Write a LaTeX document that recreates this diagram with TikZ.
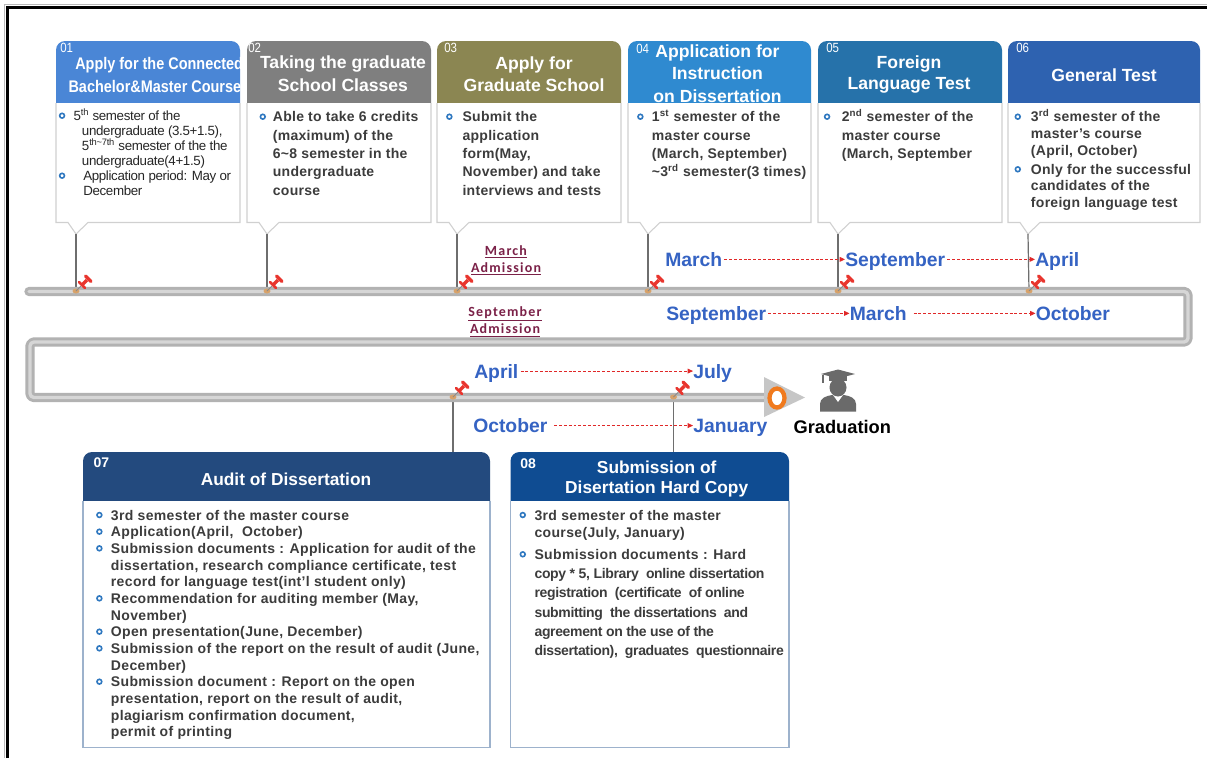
\documentclass[tikz,border=0pt]{standalone}
\usepackage{fontspec}
\setmainfont{Liberation Sans}
\newfontfamily\carl{Carlito}
\newfontfamily\narrowfam[FakeStretch=0.86]{Liberation Sans}
\usetikzlibrary{arrows.meta}
\definecolor{hA}{HTML}{4A86D6}
\definecolor{hB}{HTML}{7F7F7F}
\definecolor{hC}{HTML}{8B8652}
\definecolor{hD}{HTML}{2F8AD0}
\definecolor{hE}{HTML}{2672AA}
\definecolor{hF}{HTML}{2E62B0}
\definecolor{hG}{HTML}{234A7E}
\definecolor{hH}{HTML}{0F4C92}
\definecolor{txt}{HTML}{3C3C3C}
\definecolor{txtd}{HTML}{262626}
\definecolor{bul}{HTML}{2F78C0}
\definecolor{mon}{HTML}{3563C3}
\definecolor{adm}{HTML}{7B2148}
\definecolor{pipeout}{HTML}{B2B2B2}
\definecolor{pipein}{HTML}{D6D6D6}
\definecolor{pinred}{HTML}{E8352E}
\definecolor{pinbase}{HTML}{D7A26A}
\definecolor{pinneedle}{HTML}{8A8A8A}
\definecolor{connc}{HTML}{6E6E6E}
\definecolor{arrred}{HTML}{E02828}
\definecolor{edgec}{HTML}{D0D0D0}
\definecolor{edgeb}{HTML}{9DB2CC}
\definecolor{gradc}{HTML}{6A6A6A}
\definecolor{ringc}{HTML}{F07A1E}
\definecolor{trig}{HTML}{C6C6C6}

\newcommand\bl[1][10pt]{\makebox[#1][l]{\tikz[baseline=-3.75pt]\draw[bul,line width=1.2pt] (0,0) circle[radius=1.8pt];}}
\newcommand\ind[1][10pt]{\hspace*{#1}}
\newcommand\tophead[3]{\fill[#3] (#1,103) -- (#1,50) arc[start angle=180,end angle=270,radius=9] -- ({#1+#2-9},41) arc[start angle=270,end angle=360,radius=9] -- ({#1+#2},103) -- cycle;}
\newcommand\topbody[3]{\filldraw[fill=white,draw=edgec,line width=0.8pt] (#1,103) -- (#1,222.5) -- ({#1+12},222.5) -- ({#1+20},234) -- ({#1+32},222.5) -- ({#1+#2},222.5) -- ({#1+#2},103); \coordinate (#3) at ({#1+20},234);}
\newcommand\bothead[3]{\fill[#3] (#1,501) -- (#1,461) arc[start angle=180,end angle=270,radius=9] -- ({#1+#2-9},452) arc[start angle=270,end angle=360,radius=9] -- ({#1+#2},501) -- cycle;
\filldraw[fill=white,draw=edgeb,line width=0.8pt] (#1,501) -- (#1,747.5) -- ({#1+#2},747.5) -- ({#1+#2},501);}

\begin{document}
\begin{tikzpicture}[x=0.75pt,y=-0.75pt,
  hdtext/.style={anchor=base, inner sep=0, text=white, font=\fontsize{13.2}{17}\selectfont\bfseries},
  numtext/.style={anchor=base west, inner sep=0, text=white, font=\narrowfam\fontsize{10}{11}\selectfont},
  bignum/.style={anchor=base west, inner sep=0, text=white, font=\fontsize{10.5}{12}\selectfont\bfseries},
  bodytext/.style={anchor=base west, inner sep=0, text=txt, font=\fontsize{10.5}{13.8}\selectfont\bfseries\addfontfeature{LetterSpace=2}},
  lowtext/.style={anchor=base west, inner sep=0, text=txt, font=\fontsize{10.5}{12.5}\selectfont\bfseries\addfontfeature{LetterSpace=2.5}},
  montext/.style={anchor=base west, inner sep=0, text=mon, font=\fontsize{14.5}{16}\selectfont\bfseries},
  admtext/.style={anchor=base, inner sep=0, text=adm, font=\carl\fontsize{10.5}{13.1}\selectfont\bfseries\addfontfeature{LetterSpace=8.5}},
  monarrow/.style={draw=arrred, dash pattern=on 2.2pt off 1.4pt, line width=0.6pt, -{Triangle[length=4pt,width=3.6pt]}, shorten <=1.5pt},
  connline/.style={draw=connc, line width=0.9pt},
  pushpin/.pic={
    \fill[pinbase] (0,0) ellipse[x radius=3.5, y radius=2.5];
    \draw[pinneedle,line width=0.7pt] (0,0) -- (5,-5);
    \draw[pinred,line width=2pt,line cap=round] (3,-9) -- (9,-3);
    \draw[pinred,line width=2.6pt] (6,-6) -- (11,-11);
    \draw[pinred,line width=2.4pt,line cap=round] (9.5,-15) -- (15,-9.5);
  }]
\useasboundingbox (0,0) rectangle (1207,758);
\fill[white] (0,0) rectangle (1207,758);
% frame
\draw[gray!55,line width=0.5pt] (4,758) -- (4,4) -- (1207,4);
\draw[black,line width=1.6pt] (7.5,758) -- (7.5,7.5) -- (1207,7.5);

% ---------- top headers
\tophead{56}{184}{hA}
\tophead{247}{184}{hB}
\tophead{437}{184}{hC}
\tophead{628}{183}{hD}
\tophead{818}{184}{hE}
\tophead{1008}{192}{hF}

\begin{scope}
\clip (56,41) rectangle (240,103);
\node[anchor=base west,inner sep=0,text=white,font=\narrowfam\fontsize{12.6}{14}\selectfont\bfseries] (h1a) at (75,69) {Apply for the Connected};
\node[anchor=base west,inner sep=0,text=white,font=\narrowfam\fontsize{12.6}{14}\selectfont\bfseries] (h1b) at (68.3,92) {Bachelor\&Master Course};
\end{scope}
\node[hdtext] (h2) at (343,68.5) {\parbox[t]{240pt}{\centering Taking the graduate\\School Classes}};
\node[hdtext] (h3) at (534,69) {\parbox[t]{240pt}{\centering Apply for\\Graduate School}};
\node[hdtext] (h4) at (717.5,57) {\parbox[t]{240pt}{\centering Application for\\Instruction\\on Dissertation}};
\node[hdtext,font=\fontsize{13.2}{16.1}\selectfont\bfseries] (h5) at (909,68.5) {\parbox[t]{240pt}{\centering Foreign\\Language Test}};
\node[hdtext] (h6) at (1104,81) {\parbox[t]{240pt}{\centering General Test}};

\node[numtext] (n1) at (60,52) {01};
\node[numtext] (n2) at (248,52) {02};
\node[numtext] (n3) at (444,52) {03};
\node[numtext] (n4) at (636,53) {04};
\node[numtext] (n5) at (826,52.5) {05};
\node[numtext] (n6) at (1016,52.5) {06};

% ---------- top bodies
\topbody{56}{184}{tip1}
\topbody{247}{184}{tip2}
\topbody{437}{184}{tip3}
\topbody{628}{183}{tip4}
\topbody{818}{184}{tip5}
\topbody{1008}{192}{tip6}

\node[anchor=base west,inner sep=0,text=txtd,font=\fontsize{10}{11.25}\selectfont\addfontfeature{LetterSpace=-2.5}] (b1) at (58.6,120.7) {\parbox[t]{200pt}{%
\bl[11pt]5\textsuperscript{th} semester of the\\
\ind[17.3pt]undergraduate (3.5+1.5),\\
\ind[17.3pt]5\textsuperscript{th\textasciitilde 7th} semester of the the\\
\ind[17.3pt]undergraduate(4+1.5)\\
\bl[18.3pt]Application period: May or\\
\ind[18.3pt]December}};
\node[bodytext] (b2) at (259.3,121.7) {\parbox[t]{200pt}{%
\bl[10pt]Able to take 6 credits\\
\ind[10pt](maximum) of the\\
\ind[10pt]6\textasciitilde 8 semester in the\\
\ind[10pt]undergraduate\\
\ind[10pt]course}};
\node[bodytext] (b3) at (445.9,121.7) {\parbox[t]{200pt}{%
\bl[12.3pt]Submit the\\
\ind[12.3pt]application\\
\ind[12.3pt]form(May,\\
\ind[12.3pt]November) and take\\
\ind[12.3pt]interviews and tests}};
\node[bodytext] (b4) at (636.9,121.7) {\parbox[t]{200pt}{%
\bl[11.1pt]1\textsuperscript{st} semester of the\\
\ind[11.1pt]master course\\
\ind[11.1pt](March, September)\\
\ind[11.1pt]\textasciitilde 3\textsuperscript{rd} semester(3 times)}};
\node[bodytext] (b5) at (823.6,121.7) {\parbox[t]{200pt}{%
\bl[13.5pt]2\textsuperscript{nd} semester of the\\
\ind[13.5pt]master course\\
\ind[13.5pt](March, September}};
\node[bodytext,font=\fontsize{10.5}{12.5}\selectfont\bfseries\addfontfeature{LetterSpace=2}] (b6a) at (1014.3,121.7) {\parbox[t]{200pt}{%
\bl[12.3pt]3\textsuperscript{rd} semester of the\\
\ind[12.3pt]master's course\\
\ind[12.3pt](April, October)}};
\node[bodytext,font=\fontsize{10.5}{12.5}\selectfont\bfseries\addfontfeature{LetterSpace=2}] (b6b) at (1014.3,174.3) {\parbox[t]{200pt}{%
\bl[12.3pt]Only for the successful\\
\ind[12.3pt]candidates of the\\
\ind[12.3pt]foreign language test}};

% ---------- pins on the line
\coordinate (p1) at (76,291);
\coordinate (p2) at (267,291);
\coordinate (p3) at (457,291);
\coordinate (p4) at (648,291);
\coordinate (p5) at (838,291);
\coordinate (p6) at (1029,291);
\coordinate (q7) at (453,397);
\coordinate (q8) at (673.5,397);
\coordinate (t7) at (453,452);
\coordinate (t8) at (673.5,452);
\foreach \i in {1,...,6} {\draw[connline] (tip\i) -- (p\i);}
\draw[connline] (q7) -- (t7);
\draw[connline] (q8) -- (t8);

% ---------- timeline pipe
\draw[pipeout,line width=7pt,line cap=round,line join=round,rounded corners=3pt]
  (29,291.5) -- (1188,291.5) -- (1188,342) -- (30,342) -- (30,397.5) -- (770,397.5);
\draw[pipein,line width=2.5pt,line cap=round,line join=round,rounded corners=3pt]
  (29,291.5) -- (1188,291.5) -- (1188,342) -- (30,342) -- (30,397.5) -- (770,397.5);
\fill[trig] (764,377) -- (805,397.5) -- (764,417) -- cycle;
\draw[ringc,line width=3.2pt,fill=white] (777,398) ellipse[x radius=7.5, y radius=9.5];

\foreach \i in {p1,p2,p3,p4,p5,p6,q7,q8} {\pic at (\i) {pushpin};}

% ---------- admission labels
\node[admtext] (adm1) at (506,255) {\parbox[t]{120pt}{\centering\underline{March}\\\underline{Admission}}};
\node[admtext] (adm2) at (505,316.5) {\parbox[t]{120pt}{\centering\underline{September}\\\underline{Admission}}};

% ---------- months
\node[montext] (mA1) at (665,266.3) {March};
\node[montext] (mA2) at (845,266.3) {September};
\node[montext] (mA3) at (1035,266.3) {April};
\node[montext] (mB1) at (666,320.3) {September};
\node[montext] (mB2) at (849.5,320.3) {March};
\node[montext] (mB3) at (1035.5,320.3) {October};
\node[montext] (mC1) at (474,378) {April};
\node[montext] (mC2) at (693,378) {July};
\node[montext] (mD1) at (473,432.5) {October};
\node[montext] (mD2) at (693,432.5) {January};
\draw[monarrow] ([yshift=5.2pt]mA1.base east) -- ([yshift=5.2pt]mA2.base west);
\draw[monarrow] ([yshift=5.2pt]mA2.base east) -- ([yshift=5.2pt]mA3.base west);
\draw[monarrow] ([yshift=5.2pt]mB1.base east) -- ([yshift=5.2pt]mB2.base west);
\draw[monarrow,shorten <=5pt] ([yshift=5.2pt]mB2.base east) -- ([yshift=5.2pt]mB3.base west);
\draw[monarrow] ([yshift=5.2pt]mC1.base east) -- ([yshift=5.2pt]mC2.base west);
\draw[monarrow,shorten <=5pt] ([yshift=5.2pt]mD1.base east) -- ([yshift=5.2pt]mD2.base west);

% ---------- graduation icon
\fill[gradc] (820,411.5) -- (820,404) .. controls (820,398) and (826,396) .. (832,395) -- (844,395) .. controls (850,396) and (856,398) .. (856,404) -- (856,411.5) -- cycle;
\fill[white] (833,395) -- (838,402) -- (843,395) -- cycle;
\fill[gradc] (838,387.5) ellipse[x radius=8.5, y radius=9];
\fill[gradc] (829,375) rectangle (847,381);
\fill[gradc] (821,374) -- (838,369.5) -- (855,374) -- (838,378.5) -- cycle;
\draw[gradc,line width=0.8pt] (823,374.5) -- (823,383);
\node[anchor=base,inner sep=0,font=\fontsize{13.7}{15}\selectfont\bfseries] (grad) at (842.3,433) {Graduation};

% ---------- bottom boxes
\bothead{83}{407}{hG}
\bothead{510.5}{278.5}{hH}
\node[bignum] (n7) at (93.3,467) {07};
\node[bignum] (n8) at (520,468) {08};
\node[hdtext,font=\fontsize{13}{15.5}\selectfont\bfseries] (h7) at (286,485) {\parbox[t]{300pt}{\centering Audit of Dissertation}};
\node[hdtext,font=\fontsize{13}{15.5}\selectfont\bfseries] (h8) at (656.7,473.3) {\parbox[t]{240pt}{\centering Submission of\\Disertation Hard Copy}};

\node[lowtext] (b7) at (95.9,520) {\parbox[t]{330pt}{%
\bl[11.1pt]3rd semester of the master course\\
\bl[11.1pt]Application(April,\ \ October)\\
\bl[11.1pt]Submission documents : Application for audit of the\\
\ind[11.1pt]dissertation, research compliance certificate, test\\
\ind[11.1pt]record for language test(int'l student only)\\
\bl[11.1pt]Recommendation for auditing member (May,\\
\ind[11.1pt]November)\\
\bl[11.1pt]Open presentation(June, December)\\
\bl[11.1pt]Submission of the report on the result of audit (June,\\
\ind[11.1pt]December)\\
\bl[11.1pt]Submission document : Report on the open\\
\ind[11.1pt]presentation, report on the result of audit,\\
\ind[11.1pt]plagiarism confirmation document,\\
\ind[11.1pt]permit of printing}};
\node[lowtext,font=\fontsize{10.5}{13.25}\selectfont\bfseries\addfontfeature{LetterSpace=2.5}] (b8a) at (519.3,520) {\parbox[t]{240pt}{%
\bl[11.25pt]3rd semester of the master\\
\ind[11.25pt]course(July, January)}};
\node[lowtext,font=\fontsize{10.5}{14.5}\selectfont\bfseries\addfontfeature{LetterSpace=2.5}] (b8b) at (519.3,559.3) {\parbox[t]{240pt}{%
\bl[11.25pt]Submission documents : Hard\\
{\addfontfeature{LetterSpace=-2.5}\ind[11.25pt]copy * 5, Library\ \ online dissertation\\
\ind[11.25pt]registration\ \ (certificate\ \ of online\\
\ind[11.25pt]submitting\ \ the dissertations\ \ and\\
\ind[11.25pt]agreement on the use of the\\
\ind[11.25pt]dissertation),\ \ graduates\ \ questionnaire}}};
\end{tikzpicture}
\end{document}
